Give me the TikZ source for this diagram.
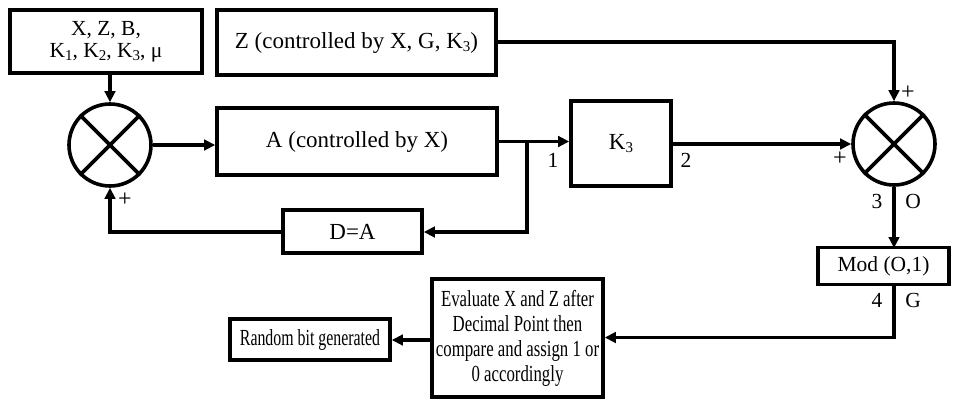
\documentclass[tikz,border=0pt]{standalone}
\usepackage{fontspec}
\setmainfont{Liberation Serif}
\newfontfamily\evalfont[FakeStretch=0.73]{Liberation Serif}
\newfontfamily\randfont[FakeStretch=0.69]{Liberation Serif}
\usetikzlibrary{arrows.meta,positioning,calc}

% lowered subscript, as set in the block labels
\newcommand{\lowsub}[1]{\raisebox{-0.3ex}{\fontsize{15}{15}\selectfont #1}}

\tikzset{
  blk/.style={draw, line width=3.6pt, inner sep=0pt, align=center, font=\fontsize{23}{26}\selectfont},
  small/.style={font=\fontsize{21.5}{22}\selectfont},
  mixer/.style={draw, circle, line width=3.6pt, minimum size=82pt, inner sep=0pt},
  wire/.style={line width=3.1pt},
  flow/.style={wire, -{Triangle[length=11pt,width=10.5pt]}},
  tag/.style={font=\fontsize{21.5}{22}\selectfont, inner sep=0pt},
  sign/.style={font=\fontsize{24}{24}\selectfont, inner sep=0pt}
}

\begin{document}
\begin{tikzpicture}[x=1pt,y=1pt]
\useasboundingbox (0,0) rectangle (960,-402);

% input and parameter blocks
\node[blk, small, minimum width=192pt, minimum height=63pt] (inp) at (106,-41.5) {X, Z, B,\\K\lowsub{1}, K\lowsub{2}, K\lowsub{3}, μ};
\node[blk, minimum width=279pt, minimum height=65pt] (zc) at (356.5,-42.5) {Z (controlled by X, G, K\lowsub{3})};

% first mixer and chaotic map
\node[mixer] (m1) at (110,-145) {};
\draw[line width=3.6pt] (m1.north west) -- (m1.south east) (m1.north east) -- (m1.south west);
\node[blk, minimum width=280pt, minimum height=67pt] (acx) at (357,-141.5) {A (controlled by X)};
\node[blk, minimum width=139pt, minimum height=43pt] (dfb) at (352.5,-231.5) {D=A};

% gain block and second mixer
\node[blk, minimum width=100pt, minimum height=85pt] (k3) at (621,-143.5) {K\lowsub{3}};
\node[mixer] (m2) at (894,-144) {};
\draw[line width=3.6pt] (m2.north west) -- (m2.south east) (m2.north east) -- (m2.south west);

% output chain
\node[blk, small, minimum width=131pt, minimum height=37pt] (mod) at (883.5,-266) {Mod (O,1)};
\node[blk, minimum width=171pt, minimum height=118pt, font=\evalfont\fontsize{23}{25}\selectfont] (eva) at (517.5,-338) {Evaluate X and Z after\\Decimal Point then\\compare and assign 1 or\\0 accordingly};
\node[blk, minimum width=160pt, minimum height=41pt, font=\randfont\fontsize{23}{25}\selectfont] (rnd) at (310,-339.5) {Random bit generated};

% connectors
\draw[flow] (inp.south -| m1) -- (m1.north);
\draw[flow] (m1.east) -- (acx.west |- m1.east);
\coordinate (tap) at (527,-141.5);
\draw[flow] (acx.east |- tap) -- (k3.west |- tap);
\draw[flow] (tap) -- (527,-232) -- (dfb.east |- 0,-232);
\draw[flow] (dfb.west |- 0,-232) -- (110,-232) -- (m1.south);
\draw[flow] (zc.east |- 0,-42) -- (894,-42) -- (m2.north);
\draw[flow] (k3.east |- m2.west) -- (m2.west);
\draw[flow] (m2.south) -- (894,-248);
\draw[flow] (894,-284.5) -- (894,-337.5) -- (eva.east |- 0,-337.5);
\draw[flow] (eva.west |- 0,-340) -- (rnd.east |- 0,-340);

% port labels and signs
\node[tag] at (553,-160) {1};
\node[tag] at (686,-160) {2};
\node[tag] at (877,-201) {3};
\node[tag] at (913,-201) {O};
\node[tag] at (877,-300) {4};
\node[tag] at (913,-300) {G};
\node[sign] at (125,-200) {+};
\node[sign] at (840,-159) {+};
\node[sign] at (908,-93) {+};
\end{tikzpicture}
\end{document}
